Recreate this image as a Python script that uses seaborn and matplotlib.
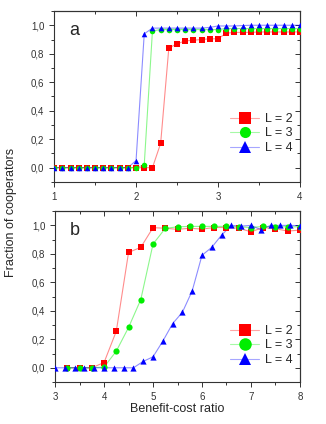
import numpy as np
import pandas as pd
import matplotlib
matplotlib.use("Agg")
import matplotlib.pyplot as plt
import seaborn as sns
from matplotlib.lines import Line2D
from matplotlib.colors import to_rgba
from matplotlib.ticker import MultipleLocator, FuncFormatter, NullFormatter

# panel a data (x step 0.1)
xa = [round(1.0 + 0.1 * i, 1) for i in range(31)]
a_L2 = [0]*13 + [0.17, 0.84, 0.87, 0.89, 0.895, 0.90, 0.905, 0.905, 0.944, 0.95,
                 0.95, 0.95, 0.953, 0.953, 0.953, 0.953, 0.953, 0.953]
a_L3 = [0]*11 + [0.02, 0.96, 0.97, 0.97, 0.97, 0.97, 0.97, 0.97, 0.97, 0.97,
                 0.977, 0.977, 0.977, 0.977, 0.977, 0.977, 0.977, 0.977, 0.977, 0.977]
a_L4 = [0]*10 + [0.05, 0.94, 0.98, 0.98, 0.98, 0.98, 0.98, 0.98, 0.98, 0.985,
                 0.995, 0.995, 0.995, 0.998, 1.0, 1.0, 1.0, 1.0, 1.0, 1.0, 1.0]

# panel b data
xb_23 = [3.25 + 0.25 * i for i in range(20)]
b_L2 = [0, 0, 0, 0.037, 0.257, 0.81, 0.846, 0.984, 0.98, 0.972, 0.98, 0.974,
        0.985, 0.985, 0.98, 0.955, 0.985, 0.977, 0.96, 0.967]
b_L3 = [0, 0, 0, 0.005, 0.117, 0.283, 0.479, 0.869, 0.979, 0.99, 0.993, 0.993,
        0.993, 0.993, 0.99, 0.985, 0.993, 0.99, 0.99, 0.99]
xb_4 = [round(3.0 + 0.2 * i, 1) for i in range(26)]
b_L4 = [0, 0, 0, 0, 0, 0, 0, 0, 0, 0.045, 0.077, 0.187, 0.31, 0.39, 0.54, 0.79,
        0.846, 0.932, 1.0, 0.995, 1.0, 0.97, 1.0, 1.0, 1.0, 0.998]

labels = ["L = 2", "L = 3", "L = 4"]
colors = ["#ff0000", "#00ee00", "#0000ff"]
markers = ["s", "o", "^"]

sns.set_style("ticks")
plt.rcParams["font.family"] = ["Liberation Sans", "DejaVu Sans"]

fig = plt.figure(figsize=(3.26, 4.24), dpi=100)
ax1 = fig.add_axes([0.166, 0.571, 0.754, 0.403])
ax2 = fig.add_axes([0.169, 0.099, 0.751, 0.403])

comma = FuncFormatter(lambda v, p: f"{v:.1f}".replace(".", ","))


def draw(ax, series, msize, legsize, anchor):
    for (x, y), lab, c, m in zip(series, labels, colors, markers):
        df = pd.DataFrame({"x": x, "y": y})
        sns.lineplot(data=df, x="x", y="y", ax=ax, color=c, alpha=0.45,
                     linewidth=0.8, legend=False)
        sns.scatterplot(data=df, x="x", y="y", ax=ax, color=c, marker=m,
                        s=msize, linewidth=0, legend=False, zorder=3)
    ax.set_ylim(-0.1, 1.1)
    ax.yaxis.set_major_locator(MultipleLocator(0.2))
    ax.yaxis.set_minor_locator(MultipleLocator(0.1))
    ax.yaxis.set_major_formatter(comma)
    ax.xaxis.set_major_locator(MultipleLocator(1))
    ax.xaxis.set_minor_locator(MultipleLocator(0.5))
    ax.set_xlabel("")
    ax.set_ylabel("")
    for s in ax.spines.values():
        s.set_linewidth(0.8)
        s.set_color("#333333")
    ax.tick_params(which="both", labelsize=7, colors="#333333", width=0.7,
                   direction="out")
    ax.tick_params(which="major", length=3.5)
    ax.tick_params(which="minor", length=2)

    # mirrored ticks pointing inward on top and right
    top = ax.secondary_xaxis("top")
    right = ax.secondary_yaxis("right")
    for sec, axis in ((top, top.xaxis), (right, right.yaxis)):
        axis.set_major_locator(MultipleLocator(1 if sec is top else 0.2))
        axis.set_minor_locator(MultipleLocator(0.5 if sec is top else 0.1))
        axis.set_major_formatter(NullFormatter())
        sec.tick_params(which="both", direction="in", colors="#333333", width=0.7)
        sec.tick_params(which="major", length=3.5)
        sec.tick_params(which="minor", length=2)
        for s in sec.spines.values():
            s.set_linewidth(0.8)
            s.set_color("#333333")

    handles = [Line2D([], [], color=to_rgba(c, 0.35), linewidth=0.8, marker=m,
                      markersize=legsize, markerfacecolor=c, markeredgecolor=c,
                      markeredgewidth=0)
               for c, m in zip(colors, markers)]
    ax.legend(handles, labels, loc="lower right", bbox_to_anchor=(1.0, anchor),
              frameon=False, fontsize=9, handlelength=2.3, handletextpad=0.45,
              labelspacing=0.2, borderaxespad=0.2)


draw(ax1, [(xa, a_L2), (xa, a_L3), (xa, a_L4)], 16, 8, 0.12)
ax1.set_xlim(1, 4)
ax1.text(0.06, 0.86, "a", transform=ax1.transAxes, fontsize=13)

draw(ax2, [(xb_23, b_L2), (xb_23, b_L3), (xb_4, b_L4)], 20, 9, 0.05)
ax2.set_xlim(3, 8)
ax2.text(0.06, 0.86, "b", transform=ax2.transAxes, fontsize=13)
ax2.set_xlabel("Benefit-cost ratio", fontsize=9, labelpad=1)

fig.text(0.035, 0.5, "Fraction of cooperators", rotation=90, va="center",
         ha="center", fontsize=9)

fig.savefig("out.png", dpi=100)
